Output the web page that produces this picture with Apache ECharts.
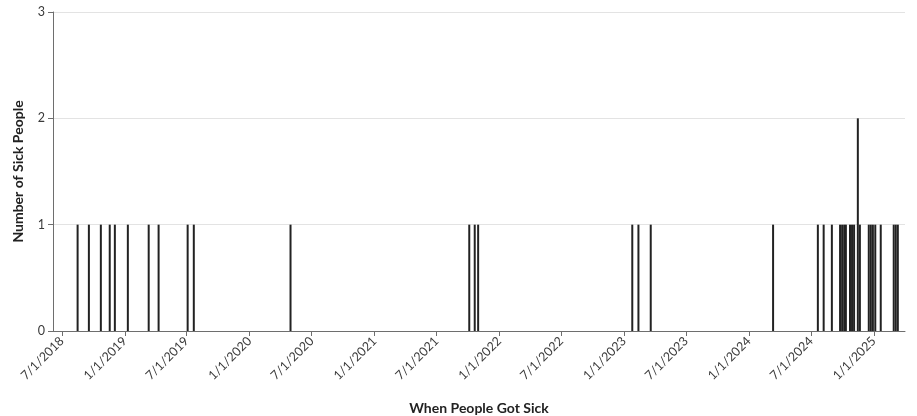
<!DOCTYPE html>
<html>
<head>
<meta charset="utf-8">
<script src="https://cdn.jsdelivr.net/npm/echarts@6/dist/echarts.min.js"></script>
<style>
html,body{margin:0;padding:0;background:#fff;}
#c{width:917px;height:416px;}
</style>
</head>
<body>
<div id="c"></div>
<script>
// ---- data ----
var sickDates = [
  '2018-08-16','2018-09-18','2018-10-23','2018-11-18','2018-12-03',
  '2019-01-10','2019-03-12','2019-04-10','2019-07-04','2019-07-22',
  '2020-04-30',
  '2021-10-05','2021-10-21','2021-10-31',
  '2023-01-25','2023-02-12','2023-03-20',
  '2024-03-12',
  '2024-07-21','2024-08-07','2024-08-31','2024-09-24','2024-09-30','2024-10-06',
  '2024-10-11','2024-10-23','2024-10-29','2024-11-04','2024-11-15','2024-11-21',
  '2024-12-17','2024-12-23','2024-12-29','2025-01-05','2025-01-21',
  '2025-02-28','2025-03-06','2025-03-12'
];
var sickCounts = [
  1,1,1,1,1,
  1,1,1,1,1,
  1,
  1,1,1,
  1,1,1,
  1,
  1,1,1,1,1,1,
  1,1,1,1,2,1,
  1,1,1,1,1,
  1,1,1
];
var tickLabels = ['7/1/2018','1/1/2019','7/1/2019','1/1/2020','7/1/2020','1/1/2021','7/1/2021',
  '1/1/2022','7/1/2022','1/1/2023','7/1/2023','1/1/2024','7/1/2024','1/1/2025'];
var yTicks = [0, 1, 2, 3];
var xRange = ['2018-06-05', '2025-04-02'];
var xTitle = 'When People Got Sick';
var yTitle = 'Number of Sick People';

function isoToTs(s){ var p = s.split('-'); return Date.UTC(+p[0], +p[1]-1, +p[2]); }
function mdyToTs(s){ var p = s.split('/'); return Date.UTC(+p[2], +p[0]-1, +p[1]); }

var tickValues = tickLabels.map(mdyToTs);
var labelMap = {};
tickValues.forEach(function(v, i){ labelMap[v] = tickLabels[i]; });
var seriesData = sickDates.map(function(d, i){ return [isoToTs(d), sickCounts[i]]; });

var chart = echarts.init(document.getElementById('c'), null, {renderer: 'canvas'});
var font = 'Lato, "Open Sans", sans-serif';
chart.setOption({
  animation: false,
  backgroundColor: '#fff',
  grid: {left: 53, right: 12, top: 12, bottom: 85, containLabel: false, outerBoundsMode: 'none'},
  xAxis: {
    type: 'value',
    scale: true,
    min: isoToTs(xRange[0]),
    max: isoToTs(xRange[1]),
    name: xTitle,
    nameLocation: 'middle',
    nameGap: 70,
    nameTextStyle: {fontFamily: font, fontSize: 14, fontWeight: 'bold', color: '#222'},
    axisLine: {show: true, onZero: false, lineStyle: {color: '#6e6e6e', width: 1}},
    axisTick: {show: true, length: 5, lineStyle: {color: '#6e6e6e'}, customValues: tickValues},
    axisLabel: {
      customValues: tickValues,
      rotate: 45,
      fontFamily: font,
      fontSize: 12.5,
      color: '#3a3a3a',
      margin: 8,
      showMinLabel: true,
      showMaxLabel: true,
      formatter: function(v){ return labelMap[v] || ''; }
    },
    splitLine: {show: false}
  },
  yAxis: {
    type: 'value',
    min: yTicks[0],
    max: yTicks[yTicks.length - 1],
    interval: 1,
    name: yTitle,
    nameLocation: 'middle',
    nameGap: 28,
    nameTextStyle: {fontFamily: font, fontSize: 14, fontWeight: 'bold', color: '#222'},
    axisLine: {show: true, lineStyle: {color: '#6e6e6e', width: 1}},
    axisTick: {show: true, length: 5, lineStyle: {color: '#6e6e6e'}},
    axisLabel: {fontFamily: font, fontSize: 12.5, color: '#3a3a3a', margin: 8},
    splitLine: {show: true, lineStyle: {color: '#e3e3e3', width: 1}}
  },
  series: [{
    type: 'bar',
    data: seriesData,
    barWidth: 2,
    itemStyle: {color: '#222'}
  }]
});
</script>
</body>
</html>
